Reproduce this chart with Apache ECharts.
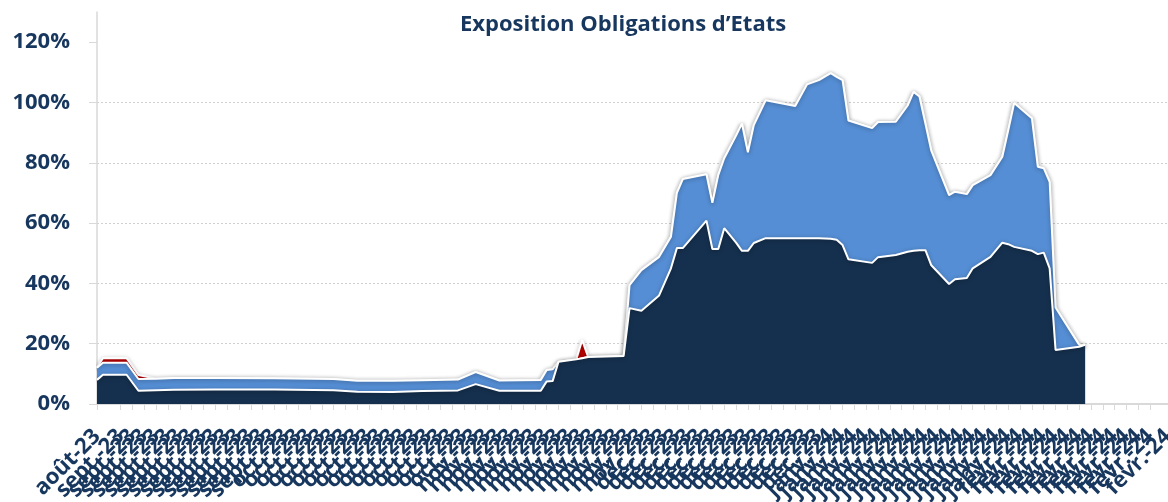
<!DOCTYPE html>
<html>
<head>
<meta charset="utf-8">
<script src="https://cdn.jsdelivr.net/npm/echarts@6/dist/echarts.min.js"></script>
<style>
  html, body { margin: 0; padding: 0; background: #ffffff; }
  #chart { width: 1168px; height: 502px; }
</style>
</head>
<body>
<div id="chart"></div>
<script>
// Calendar axis: one category per day, labelled "mmm-yy" every second day
const startYear = 2023, startMonth = 7, startDay = 30;   // 30 août 2023
const dayCount = 182;
const monthNames = ['janv.', 'févr.', 'mars', 'avr.', 'mai', 'juin',
                    'juil.', 'août', 'sept.', 'oct.', 'nov.', 'déc.'];
const yTicks = [0, 20, 40, 60, 80, 100, 120];

// Observation days (offset from the start date) and exposures in % of assets
const obsDays = [0, 1, 5, 7, 10, 13, 20, 30, 40, 44, 50, 55, 61, 64, 68, 75, 76, 77, 78,
  81, 82, 83, 89, 90, 92, 95, 97, 98, 99, 103, 104, 105, 106, 108, 109, 110, 111, 113,
  118, 120, 122, 124, 125, 126, 127, 131, 132, 135, 137, 138, 139, 140, 141, 144, 145,
  147, 148, 151, 153, 154, 155, 158, 159, 160, 161, 162, 166, 167];

const navyValues = [8.0, 9.7, 9.7, 4.4, 4.6, 4.7, 4.8, 4.8, 4.6, 4.1, 4.0, 4.3, 4.5, 6.6,
  4.4, 4.4, 7.5, 7.6, 14.0, 14.8, 15.2, 15.6, 15.9, 31.8, 30.9, 36.0, 45.0, 51.7, 51.7,
  60.8, 51.4, 51.4, 58.3, 53.5, 50.8, 50.8, 53.4, 55.0, 55.0, 55.0, 55.0, 54.8, 54.5,
  52.7, 48.0, 46.8, 48.7, 49.4, 50.5, 50.8, 51.0, 51.0, 46.0, 39.8, 41.4, 41.8, 45.0,
  48.8, 53.5, 53.0, 52.1, 50.8, 49.7, 50.2, 45.0, 17.9, 19.0, 19.6];

const blueValues = [4.0, 4.0, 4.0, 3.9, 3.8, 3.9, 3.8, 3.7, 3.7, 3.6, 3.7, 3.6, 3.6, 4.0,
  3.4, 3.6, 3.8, 3.9, 0, 0, 0, 0, 0, 7.6, 13.5, 12.8, 10.5, 18.3, 22.9, 15.4, 15.3, 24.6,
  23.2, 35.5, 42.2, 32.7, 39.1, 45.7, 43.8, 51.0, 52.4, 54.9, 54.0, 54.7, 46.0, 44.7,
  44.8, 44.2, 48.5, 52.7, 51.0, 42.0, 38.0, 29.5, 29.0, 27.8, 27.6, 27.1, 28.5, 37.8,
  47.7, 44.0, 29.0, 28.0, 28.7, 14.1, 0.6, 0];

const redValues = [0, 1.5, 1.5, 1.3, 0, 0, 0, 0, 0, 0, 0, 0, 0, 0, 0, 0, 0, 0, 0,
  0, 6.0, 0, 0, 0, 0, 0, 0, 0, 0, 0, 0, 0, 0, 0, 0, 0, 0, 0, 0, 0, 0, 0, 0, 0, 0, 0,
  0, 0, 0, 0, 0, 0, 0, 0, 0, 0, 0, 0, 0, 0, 0, 0, 0, 0, 0, 0, 0, 0];

const seriesNames = ['Obligations d’Etats', 'Obligations d’Etats (autres)', 'Obligations d’Etats (dérivés)'];
const seriesColors = ['#15304e', '#558ed5', '#c00000'];

// Build the daily category labels
const categories = [];
for (let d = 0; d < dayCount; d++) {
  const dt = new Date(startYear, startMonth, startDay + d);
  categories.push(monthNames[dt.getMonth()] + '-' + String(dt.getFullYear()).slice(2));
}

// Spread observations over the daily axis (non-observed days stay empty)
function toDaily(values) {
  const out = new Array(dayCount).fill(null);
  obsDays.forEach((d, i) => { out[d] = values[i]; });
  return out;
}

const textColor = '#17375e';
const fontFamily = '"Open Sans", "DejaVu Sans", sans-serif';

function areaSeries(idx, values) {
  return {
    name: seriesNames[idx],
    type: 'line',
    stack: 'total',
    data: toDaily(values),
    connectNulls: true,
    showSymbol: false,
    symbol: 'none',
    z: 5 - idx,
    lineStyle: {
      color: '#ffffff',
      width: 2,
      shadowColor: 'rgba(0,0,0,0.35)',
      shadowBlur: 4,
      shadowOffsetY: 1
    },
    areaStyle: { color: seriesColors[idx], opacity: 1 },
    emphasis: { disabled: true }
  };
}

const chart = echarts.init(document.getElementById('chart'), null, { renderer: 'canvas' });
chart.setOption({
  animation: false,
  backgroundColor: '#ffffff',
  title: {
    text: 'Exposition Obligations d’Etats',
    left: 414,
    top: 1,
    padding: [13, 46, 13, 46],
    backgroundColor: '#ffffff',
    textStyle: {
      color: textColor,
      fontFamily: fontFamily,
      fontWeight: 'bold',
      fontSize: 22
    }
  },
  grid: { left: 97, right: 0, top: 12, bottom: 98, containLabel: false, outerBoundsMode: 'none' },
  xAxis: {
    type: 'category',
    data: categories,
    boundaryGap: false,
    axisLine: { show: true, lineStyle: { color: '#d9d9d9', width: 2 } },
    axisTick: { show: true, interval: 1, length: 6, lineStyle: { color: '#d9d9d9', width: 1 } },
    axisLabel: {
      interval: 1,
      rotate: 45,
      margin: 29,
      showMinLabel: true,
      showMaxLabel: true,
      hideOverlap: false,
      color: textColor,
      fontFamily: fontFamily,
      fontWeight: 'bold',
      fontSize: 22
    },
    splitLine: { show: false }
  },
  yAxis: {
    type: 'value',
    min: 0,
    max: 130,
    interval: 20,
    axisLine: { show: true, lineStyle: { color: '#d9d9d9', width: 1.5 } },
    axisTick: { show: true, length: 8, customValues: yTicks, lineStyle: { color: '#d9d9d9' } },
    axisLabel: {
      customValues: yTicks,
      formatter: '{value}%',
      margin: 27,
      color: textColor,
      fontFamily: fontFamily,
      fontWeight: 'bold',
      fontSize: 22
    },
    splitLine: {
      show: true,
      showMinLine: false,
      showMaxLine: false,
      lineStyle: { color: '#d0d0d0', type: [2, 2], width: 1 }
    }
  },
  series: [
    areaSeries(0, navyValues),
    areaSeries(1, blueValues),
    areaSeries(2, redValues)
  ]
});
</script>
</body>
</html>
